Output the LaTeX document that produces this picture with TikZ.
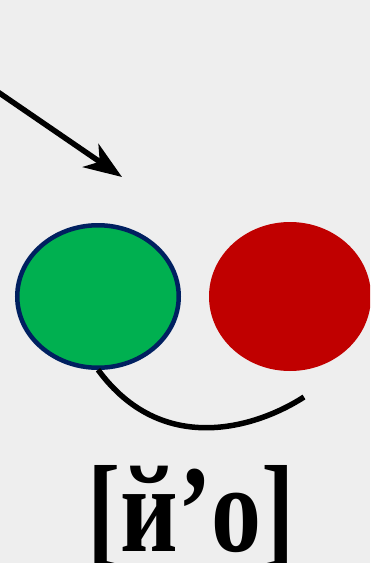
\documentclass[tikz,border=0pt]{standalone}
\usepackage{fontspec}
\setmainfont{Liberation Serif}
\usetikzlibrary{arrows.meta,shapes.geometric}
\definecolor{bgc}{RGB}{238,238,238}
\definecolor{pptgreen}{RGB}{0,176,80}
\definecolor{pptred}{RGB}{192,0,0}
\definecolor{pptnavy}{RGB}{0,32,96}
\tikzset{
  blob/.style={ellipse, inner sep=0pt, outer sep=0pt},
  thick line/.style={line width=5.5pt, black},
}
\begin{document}
\begin{tikzpicture}[x=1pt,y=-1pt]
\useasboundingbox (0,0) rectangle (370,563);
\clip (0,0) rectangle (370,563);
\fill[bgc] (0,0) rectangle (370,563);
% arrow
\coordinate (astart) at (-5,90);
\coordinate (atip) at (122,177);
\draw[thick line, -{Stealth[length=38pt,width=28pt,inset=11pt]}] (astart) -- (atip);
% ellipses
\node[blob, fill=pptgreen, draw=pptnavy, line width=4.5pt,
      minimum width=161.5pt, minimum height=142.5pt] (green) at (98,296.5) {};
\node[blob, fill=pptred, minimum width=162pt, minimum height=149pt] (red) at (290,296.5) {};
% arc
\coordinate (arcend) at (304,397);
\draw[thick line] ([yshift=-2pt]green.south) .. controls (162,457) and (256,428) .. (arcend);
% text
\node[anchor=base, inner sep=0pt] (label) at (191,551)
  {\scalebox{1}[1.24]{\fontsize{100}{100}\selectfont\bfseries [й’о]}};
\end{tikzpicture}
\end{document}
